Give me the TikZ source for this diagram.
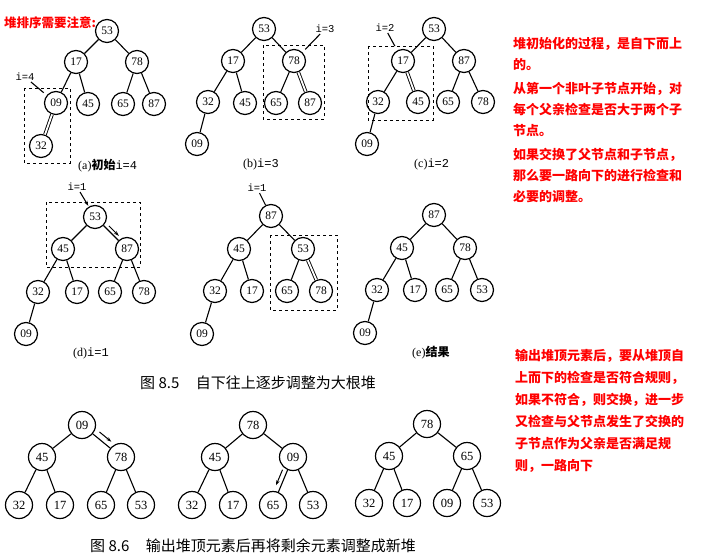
\documentclass[tikz,border=0pt]{standalone}
\usepackage{fontspec}
\setmainfont{Liberation Serif}
\setmonofont{Liberation Mono}
\newfontfamily\cjk{Noto Sans CJK SC}
\usetikzlibrary{calc,arrows.meta}

\tikzset{
	key/.style={draw, circle, line width=1.2pt, minimum size=23pt, inner sep=0pt,
		font=\fontsize{11.5}{12}\selectfont},
	bigkey/.style={key, minimum size=27pt, font=\fontsize{12.5}{13}\selectfont},
	link/.style={line width=1.1pt},
	swapline/.style={line width=0.9pt, double, double distance=1.8pt},
	moveto/.style={line width=1pt, -{Stealth[length=5pt,width=3.5pt]}, shorten <=4pt, shorten >=3pt},
	scanbox/.style={dashed, line width=1pt},
	idx/.style={inner sep=1pt, font=\ttfamily\fontsize{10.5}{12}\selectfont},
	capt/.style={anchor=west, inner sep=0pt, font=\fontsize{12}{13}\selectfont},
	note/.style={anchor=north west, inner sep=0pt, align=left, text=red,
		font=\cjk\bfseries\fontsize{13}{21}\selectfont}
}

\begin{document}
\begin{tikzpicture}[x=1pt,y=-1pt]
\useasboundingbox (0,0) rectangle (702,557);
\node[text=red, anchor=west, inner sep=0pt, font=\cjk\bfseries\fontsize{12.5}{13}\selectfont] (warn) at (4,23) {堆排序需要注意:};

%tree a
\node[key] (a53) at (107,31) {53};
\node[key] (a17) at (76,62) {17};
\node[key] (a78) at (137,62) {78};
\node[key] (a09) at (56,103) {09};
\node[key] (a45) at (88,104) {45};
\node[key] (a65) at (123,104) {65};
\node[key] (a87) at (154,104) {87};
\node[key] (a32) at (41,146) {32};
\draw[link] (a53) -- (a17) (a53) -- (a78)
	(a17) -- (a09) (a17) -- (a45)
	(a78) -- (a65) (a78) -- (a87);
\draw[swapline] (a09) -- (a32);
\draw[scanbox] (24,88) rectangle (70,163);
\node[idx] (ia) at (25,77) {i=4};
\draw[link, shorten >=4pt] (ia) -- (a09);
\node[capt] (capa) at (78,166) {(a){\cjk\bfseries 初始}\texttt{i=4}};

%tree b
\node[key] (b53) at (264,29) {53};
\node[key] (b17) at (233,61) {17};
\node[key] (b78) at (294,61) {78};
\node[key] (b32) at (208,102) {32};
\node[key] (b45) at (245,103) {45};
\node[key] (b65) at (276,103) {65};
\node[key] (b87) at (310,103) {87};
\node[key] (b09) at (197,144) {09};
\draw[link] (b53) -- (b17) (b53) -- (b78)
	(b17) -- (b32) (b17) -- (b45)
	(b78) -- (b65) (b32) -- (b09);
\draw[swapline] (b78) -- (b87);
\draw[scanbox] (263,45) rectangle (324,119);
\node[idx] (ib) at (325,29) {i=3};
\draw[link, shorten >=4pt] (ib) -- (b78);
\node[capt] (capb) at (243,164) {(b)\texttt{i=3}};

%tree c
\node[key] (c53) at (434,29) {53};
\node[key] (c17) at (403,61) {17};
\node[key] (c87) at (464,61) {87};
\node[key] (c32) at (378,102) {32};
\node[key] (c45) at (418,102) {45};
\node[key] (c65) at (448,102) {65};
\node[key] (c78) at (483,102) {78};
\node[key] (c09) at (367,144) {09};
\draw[link] (c53) -- (c17) (c53) -- (c87)
	(c17) -- (c32) (c87) -- (c65)
	(c87) -- (c78) (c32) -- (c09);
\draw[swapline] (c17) -- (c45);
\draw[scanbox] (368,46) rectangle (433,120);
\node[idx] (ic) at (385,28) {i=2};
\draw[link, shorten >=5pt] (ic) -- (c17);
\node[capt] (capc) at (414,164) {(c)\texttt{i=2}};

%tree d
\node[key] (d53) at (95,217) {53};
\node[key] (d45) at (63,249) {45};
\node[key] (d87) at (127,249) {87};
\node[key] (d32) at (38,292) {32};
\node[key] (d17) at (77,292) {17};
\node[key] (d65) at (110,292) {65};
\node[key] (d78) at (144,292) {78};
\node[key] (d09) at (26,334) {09};
\draw[link] (d53) -- (d45) (d53) -- (d87)
	(d45) -- (d32) (d45) -- (d17)
	(d87) -- (d65) (d87) -- (d78) (d32) -- (d09);
\draw[moveto, transform canvas={xshift=2.5pt,yshift=2.5pt}] (d53) -- (d87);
\draw[scanbox] (46,202) rectangle (140,267);
\node[idx] (id) at (77,187) {i=1};
\draw[link, -{Stealth[length=5pt,width=3.5pt]}, shorten >=1pt] (id) -- (d53);
\node[capt] (capd) at (73,353) {(d)\texttt{i=1}};

%tree d, second step
\node[key] (f87) at (271,216) {87};
\node[key] (f45) at (239,249) {45};
\node[key] (f53) at (303,249) {53};
\node[key] (f32) at (215,291) {32};
\node[key] (f17) at (252,291) {17};
\node[key] (f65) at (287,291) {65};
\node[key] (f78) at (321,291) {78};
\node[key] (f09) at (202,334) {09};
\draw[link] (f87) -- (f45) (f87) -- (f53)
	(f45) -- (f32) (f45) -- (f17)
	(f53) -- (f65) (f32) -- (f09);
\draw[swapline] (f53) -- (f78);
\draw[scanbox] (270,235) rectangle (337,310);
\node[idx] (if) at (257,188) {i=1};
\draw[link] (if) -- (f87);

%tree e
\node[key] (e87) at (434,215) {87};
\node[key] (e45) at (402,248) {45};
\node[key] (e78) at (465,248) {78};
\node[key] (e32) at (377,290) {32};
\node[key] (e17) at (415,290) {17};
\node[key] (e65) at (447,290) {65};
\node[key] (e53) at (482,290) {53};
\node[key] (e09) at (365,333) {09};
\draw[link] (e87) -- (e45) (e87) -- (e78)
	(e45) -- (e32) (e45) -- (e17)
	(e78) -- (e65) (e78) -- (e53) (e32) -- (e09);
\node[capt] (cape) at (412,353) {(e){\cjk\bfseries 结果}};

\node[anchor=west, inner sep=0pt, font=\cjk\fontsize{15}{16}\selectfont] (fig85) at (140,383) {图 8.5\hspace{1.1em}自下往上逐步调整为大根堆};

%output g
\node[bigkey] (g09) at (82,425) {09};
\node[bigkey] (g45) at (42,457) {45};
\node[bigkey] (g78) at (121,457) {78};
\node[bigkey] (g32) at (19,505) {32};
\node[bigkey] (g17) at (60,505) {17};
\node[bigkey] (g65) at (101,505) {65};
\node[bigkey] (g53) at (141,505) {53};
\draw[link] (g09) -- (g45) (g09) -- (g78)
	(g45) -- (g32) (g45) -- (g17)
	(g78) -- (g65) (g78) -- (g53);
\draw[moveto, transform canvas={xshift=3.5pt,yshift=4.5pt}] (g09) -- (g78);

%output h
\node[bigkey] (h78) at (253,425) {78};
\node[bigkey] (h45) at (215,457) {45};
\node[bigkey] (h09) at (293,457) {09};
\node[bigkey] (h32) at (192,505) {32};
\node[bigkey] (h17) at (233,505) {17};
\node[bigkey] (h65) at (273,505) {65};
\node[bigkey] (h53) at (313,505) {53};
\draw[link] (h78) -- (h45) (h78) -- (h09)
	(h45) -- (h32) (h45) -- (h17)
	(h09) -- (h65) (h09) -- (h53);
\draw[moveto, transform canvas={xshift=-3.5pt,yshift=4pt}] (h09) -- (h65);

%output k
\node[bigkey] (k78) at (427,424) {78};
\node[bigkey] (k45) at (389,456) {45};
\node[bigkey] (k65) at (467,456) {65};
\node[bigkey] (k32) at (369,503) {32};
\node[bigkey] (k17) at (407,503) {17};
\node[bigkey] (k09) at (447,503) {09};
\node[bigkey] (k53) at (487,503) {53};
\draw[link] (k78) -- (k45) (k78) -- (k65)
	(k45) -- (k32) (k45) -- (k17)
	(k65) -- (k09) (k65) -- (k53);

\node[anchor=west, inner sep=0pt, font=\cjk\fontsize{15}{16}\selectfont] (fig86) at (90,546) {图 8.6\hspace{1.1em}输出堆顶元素后再将剩余元素调整成新堆};

%notes
\node[note] (buildnote) at (513,37) {堆初始化的过程，是自下而上\\的。\\[3pt]
	从第一个非叶子节点开始，对\\每个父亲检查是否大于两个子\\节点。\\[3pt]
	如果交换了父节点和子节点，\\那么要一路向下的进行检查和\\必要的调整。};
\node[note, font=\cjk\bfseries\fontsize{13}{22}\selectfont] (popnote) at (515,349) {输出堆顶元素后，要从堆顶自\\上而下的检查是否符合规则，\\如果不符合，则交换，进一步\\又检查与父节点发生了交换的\\子节点作为父亲是否满足规\\则，一路向下};
\end{tikzpicture}
\end{document}
